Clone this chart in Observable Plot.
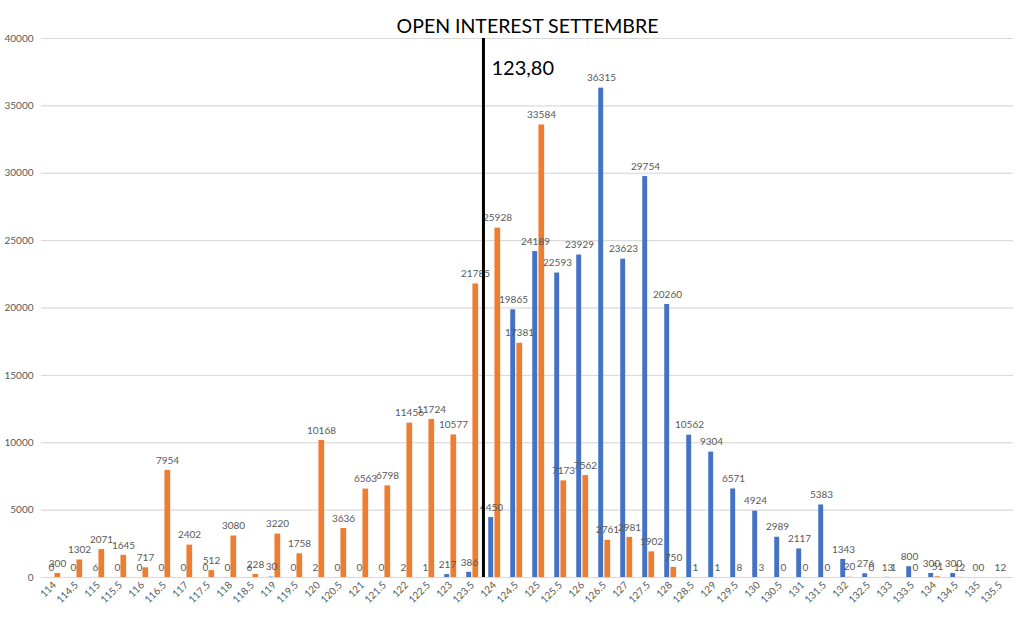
<!DOCTYPE html>
<html>
<head>
<meta charset="utf-8">
<script src="https://cdn.jsdelivr.net/npm/d3@7"></script>
<script src="https://cdn.jsdelivr.net/npm/@observablehq/plot@0.6"></script>
<style>
  body { margin: 0; background: #fff; }
  #chart svg { display: block; }
</style>
</head>
<body>
<div id="chart"></div>
<script>
const strikes = ["114","114.5","115","115.5","116","116.5","117","117.5","118","118.5",
  "119","119.5","120","120.5","121","121.5","122","122.5","123","123.5",
  "124","124.5","125","125.5","126","126.5","127","127.5","128","128.5",
  "129","129.5","130","130.5","131","131.5","132","132.5","133","133.5",
  "134","134.5","135","135.5"];

const callOI = [0,0,6,0,0,0,0,0,0,6,
  30,0,2,0,0,0,2,1,217,386,
  4450,19865,24189,22593,23929,36315,23623,29754,20260,10562,
  9304,6571,4924,2989,2117,5383,1343,276,13,800,
  300,300,0,1];

const putOI = [300,1302,2071,1645,717,7954,2402,512,3080,228,
  3220,1758,10168,3636,6563,6798,11456,11724,10577,21785,
  25928,17381,33584,7173,7562,2761,2981,1902,750,1,
  1,8,3,0,0,0,20,0,1,0,
  51,12,0,2];

const spotStrike = "124";   // band right of the spot line
const spotLabel = "123,80";
const title = "OPEN INTEREST SETTEMBRE";

const calls = strikes.map((s, i) => ({strike: s, value: callOI[i]}));
const puts = strikes.map((s, i) => ({strike: s, value: putOI[i]}));

const blue = "#4472C4", orange = "#ED7D31", grey = "#595959";
const width = 1024, height = 623;
const mL = 41, mR = 11;
const band = (width - mL - mR) / strikes.length;

const chart = Plot.plot({
  width, height,
  marginLeft: mL, marginRight: mR, marginTop: 38, marginBottom: 46,
  style: {fontFamily: "Lato, 'Open Sans', sans-serif", fontSize: "10px", color: grey},
  x: {domain: strikes, padding: 0, tickSize: 0, tickRotate: -45, tickPadding: 6, label: null},
  y: {domain: [0, 40000], ticks: d3.range(0, 40001, 5000), tickSize: 0, tickPadding: 8, grid: true, label: null, tickFormat: d => String(d)},
  marks: [
    Plot.gridY(d3.range(0, 40001, 5000), {stroke: "#d9d9d9", strokeOpacity: 1}),
    Plot.barY(calls, {x: "strike", y: "value", fill: blue, insetLeft: band / 2 - 5.8, insetRight: band / 2 + 0.8}),
    Plot.barY(puts, {x: "strike", y: "value", fill: orange, insetLeft: band / 2 + 0.4, insetRight: band / 2 - 6.2}),
    Plot.text(calls, {x: "strike", y: "value", text: d => String(d.value), dx: -3, dy: -10, fill: grey, fontSize: 10}),
    Plot.text(puts, {x: "strike", y: "value", text: d => String(d.value), dx: 3, dy: -10, fill: grey, fontSize: 10}),
    Plot.ruleX([spotStrike], {dx: -band / 2, stroke: "#000", strokeWidth: 3, y1: 0, y2: 40000}),
    Plot.text([spotLabel], {x: () => spotStrike, frameAnchor: "top", dx: -band / 2 + 8, dy: 22, textAnchor: "start", fill: "#000", fontSize: 20}),
    Plot.text([title], {frameAnchor: "top", dy: -19, fill: "#000", fontSize: 19.5})
  ]
});

document.getElementById("chart").append(chart);
</script>
</body>
</html>
